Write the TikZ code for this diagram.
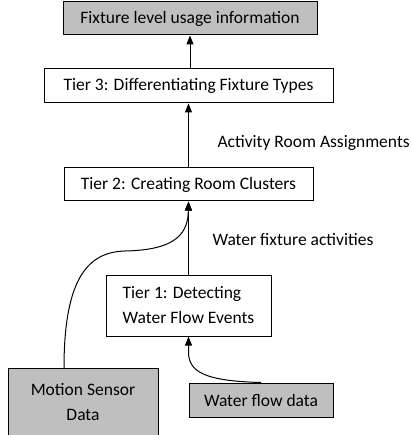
\documentclass[tikz,border=0pt]{standalone}
\usepackage{fontspec}
\setmainfont{Carlito}
\usetikzlibrary{arrows.meta}

\begin{document}
\begin{tikzpicture}[x=1pt,y=-1pt,
  font=\fontsize{17.5}{25}\selectfont,
  box/.style={draw,line width=1pt,inner sep=0pt},
  gbox/.style={box,fill=black!25},
  arr/.style={-{Triangle[length=9pt,width=7pt]},line width=1pt}]
  \useasboundingbox (0,0) rectangle (411,435);
  \clip (0,0) rectangle (411,435);
  % boxes, top to bottom
  \node[gbox,minimum width=254pt,minimum height=33pt] (info) at (190,18.5) {Fixture level usage information};
  \node[box,minimum width=289pt,minimum height=34pt] (tier3) at (188.5,86) {Tier 3: Differentiating Fixture Types};
  \node[box,minimum width=249pt,minimum height=33pt] (tier2) at (188.5,184.5) {Tier 2: Creating Room Clusters};
  \node[box,minimum width=165pt,minimum height=61pt,align=left] (tier1) at (188.5,305.5) {Tier 1: Detecting\\Water Flow Events};
  % motion box runs past the bottom edge
  \node[gbox,minimum width=150pt,minimum height=67.5pt,align=center,anchor=north] (motion) at (83,368) {Motion Sensor\\Data};
  \node[gbox,minimum width=144pt,minimum height=34pt] (flow) at (261,400) {Water flow data};
  % labels beside the arrows
  \node[anchor=west] (lblroom) at (214,143) {Activity Room Assignments};
  \node[anchor=west] (lblfix) at (209,240) {Water fixture activities};
  % arrows
  \draw[arr] (tier3.north -| info.south) -- (info.south);
  \draw[arr] (tier2.north) -- (tier3.south);
  \draw[arr] (tier1.north) -- (tier2.south);
  \draw[arr] (motion.north -| 64,0) .. controls (64,275) and (90,252) .. (125,251)
    .. controls (178,250) and (188,232) .. (tier2.south);
  \draw[arr] (flow.north) .. controls (205,381) and (188.5,372) .. (188.5,352) -- (tier1.south);
\end{tikzpicture}
\end{document}
